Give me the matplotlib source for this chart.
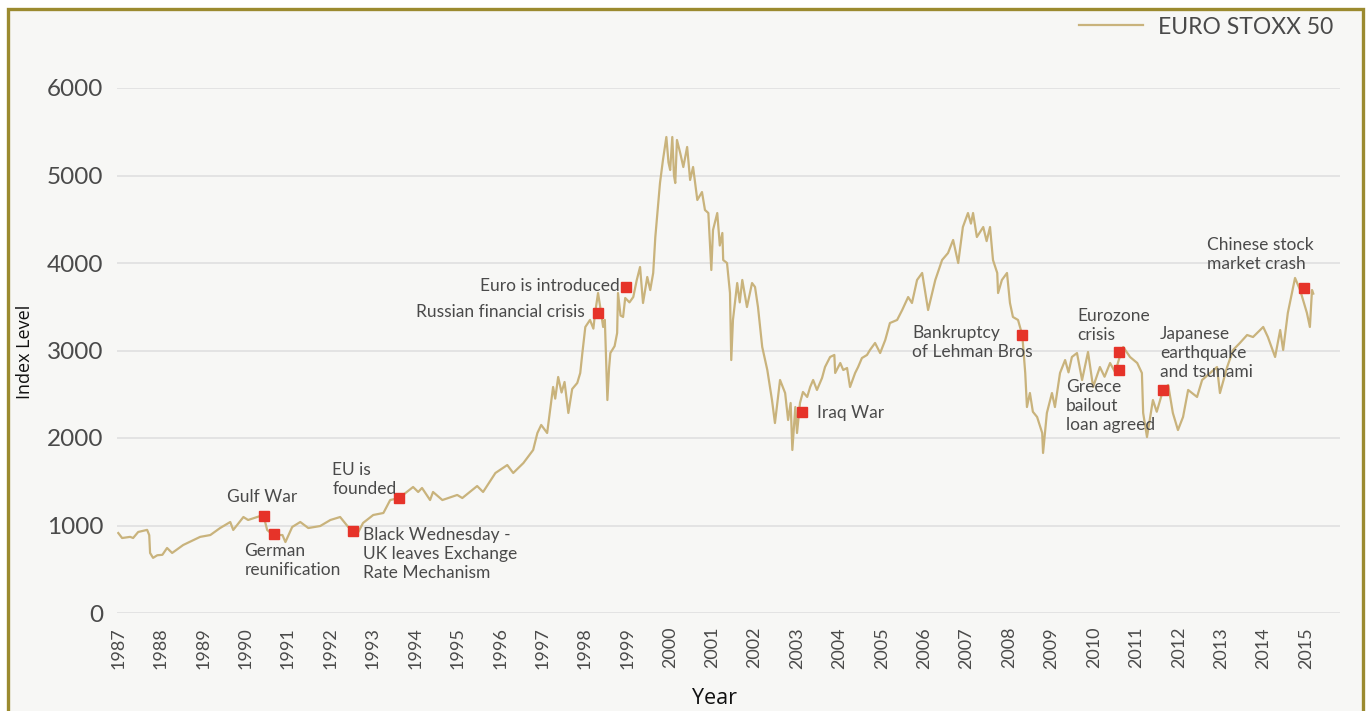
import matplotlib
matplotlib.use('Agg')
import matplotlib.pyplot as plt
from matplotlib.patches import Rectangle


# EURO STOXX 50 index level (decimal year, level)
years = [
    1987.00, 1987.09, 1987.28, 1987.35, 1987.47, 1987.68, 1987.73, 1987.75, 1987.82, 1987.92,
    1988.04, 1988.15, 1988.27, 1988.53, 1988.93, 1989.17, 1989.40, 1989.64, 1989.71, 1989.95,
    1990.06, 1990.42, 1990.51, 1990.65, 1990.87, 1990.94, 1991.10, 1991.29, 1991.48, 1991.76,
    1992.00, 1992.23, 1992.42, 1992.54, 1992.66, 1992.77, 1993.01, 1993.25, 1993.41, 1993.62,
    1993.95, 1994.07, 1994.16, 1994.35, 1994.42, 1994.64, 1994.99, 1995.11, 1995.46, 1995.60,
    1995.89, 1996.17, 1996.31, 1996.55, 1996.78, 1996.88, 1996.97, 1997.11, 1997.25, 1997.30,
    1997.37, 1997.45, 1997.52, 1997.61, 1997.70, 1997.82, 1997.89, 1997.94, 1998.01, 1998.12,
    1998.20, 1998.24, 1998.31, 1998.36, 1998.43, 1998.47, 1998.53, 1998.57, 1998.60, 1998.70,
    1998.76, 1998.78, 1998.84, 1998.90, 1998.95, 1999.05, 1999.14, 1999.22, 1999.30, 1999.37,
    1999.47, 1999.54, 1999.61, 1999.66, 1999.70, 1999.77, 1999.84, 1999.92, 1999.97, 2000.01,
    2000.06, 2000.10, 2000.13, 2000.17, 2000.25, 2000.32, 2000.41, 2000.48, 2000.55, 2000.65,
    2000.76, 2000.83, 2000.91, 2000.98, 2001.02, 2001.12, 2001.18, 2001.24, 2001.26, 2001.35,
    2001.42, 2001.45, 2001.49, 2001.59, 2001.65, 2001.71, 2001.82, 2001.94, 2002.01, 2002.08,
    2002.18, 2002.30, 2002.41, 2002.48, 2002.60, 2002.72, 2002.79, 2002.85, 2002.89, 2002.96,
    2003.00, 2003.07, 2003.14, 2003.24, 2003.31, 2003.38, 2003.47, 2003.59, 2003.66, 2003.78,
    2003.88, 2003.90, 2004.02, 2004.09, 2004.18, 2004.25, 2004.37, 2004.44, 2004.53, 2004.65,
    2004.72, 2004.84, 2004.96, 2005.08, 2005.19, 2005.36, 2005.48, 2005.62, 2005.71, 2005.83,
    2005.95, 2006.09, 2006.26, 2006.42, 2006.56, 2006.68, 2006.80, 2006.91, 2007.03, 2007.10,
    2007.15, 2007.24, 2007.39, 2007.47, 2007.55, 2007.62, 2007.72, 2007.74, 2007.83, 2007.95,
    2008.02, 2008.09, 2008.21, 2008.31, 2008.38, 2008.42, 2008.49, 2008.56, 2008.66, 2008.78,
    2008.80, 2008.89, 2009.01, 2009.08, 2009.20, 2009.32, 2009.40, 2009.48, 2009.60, 2009.72,
    2009.86, 2009.98, 2010.14, 2010.25, 2010.38, 2010.50, 2010.59, 2010.69, 2010.85, 2011.02,
    2011.13, 2011.16, 2011.25, 2011.39, 2011.48, 2011.56, 2011.63, 2011.75, 2011.86, 2011.98,
    2012.10, 2012.22, 2012.43, 2012.55, 2012.74, 2012.90, 2012.97, 2013.14, 2013.28, 2013.44,
    2013.61, 2013.75, 2013.99, 2014.10, 2014.27, 2014.39, 2014.46, 2014.57, 2014.74, 2014.86,
    2015.02, 2015.09, 2015.14, 2015.17,
]
levels = [
    914, 857, 870, 857, 926, 950, 890, 686, 630, 660,
    665, 743, 686, 777, 870, 891, 971, 1040, 949, 1097,
    1063, 1120, 949, 891, 891, 811, 983, 1040, 971, 994,
    1063, 1097, 983, 937, 926, 1029, 1120, 1143, 1291, 1314,
    1440, 1383, 1429, 1291, 1383, 1291, 1349, 1314, 1451, 1383,
    1600, 1691, 1600, 1714, 1863, 2057, 2149, 2057, 2583, 2450,
    2697, 2520, 2640, 2286, 2560, 2629, 2743, 2971, 3269, 3349,
    3250, 3429, 3657, 3500, 3269, 3350, 2434, 2800, 2971, 3050,
    3200, 3657, 3400, 3383, 3600, 3550, 3611, 3800, 3954, 3543,
    3840, 3691, 3886, 4297, 4526, 4914, 5177, 5440, 5150, 5063,
    5440, 5000, 4914, 5406, 5250, 5097, 5326, 4949, 5097, 4720,
    4811, 4606, 4571, 3920, 4377, 4571, 4200, 4343, 4034, 4000,
    3657, 2891, 3349, 3771, 3550, 3806, 3497, 3771, 3726, 3497,
    3040, 2777, 2434, 2171, 2663, 2514, 2206, 2400, 1863, 2354,
    2057, 2400, 2526, 2469, 2583, 2663, 2549, 2686, 2811, 2926,
    2949, 2743, 2857, 2777, 2800, 2583, 2743, 2811, 2914, 2949,
    3006, 3086, 2971, 3120, 3314, 3349, 3463, 3611, 3543, 3806,
    3886, 3463, 3806, 4034, 4114, 4263, 4000, 4411, 4571, 4450,
    4571, 4297, 4411, 4250, 4411, 4034, 3886, 3657, 3806, 3886,
    3543, 3383, 3349, 3177, 2743, 2354, 2514, 2300, 2240, 2057,
    1829, 2286, 2514, 2354, 2743, 2891, 2750, 2926, 2971, 2663,
    2983, 2583, 2811, 2700, 2857, 2750, 2900, 3040, 2926, 2857,
    2743, 2286, 2011, 2434, 2300, 2434, 2549, 2606, 2286, 2091,
    2240, 2549, 2469, 2663, 2743, 2811, 2514, 2811, 3006, 3086,
    3177, 3154, 3269, 3154, 2926, 3234, 3006, 3429, 3829, 3691,
    3429, 3269, 3691, 3650,
]

# events marked on the chart
event_names = [
    'Gulf War', 'German\nreunification', 'Black Wednesday -\nUK leaves Exchange\nRate Mechanism',
    'EU is\nfounded', 'Russian financial crisis', 'Euro is introduced', 'Iraq War',
    'Bankruptcy\nof Lehman Bros', 'Eurozone\ncrisis', 'Greece\nbailout\nloan agreed',
    'Japanese\nearthquake\nand tsunami', 'Chinese stock\nmarket crash',
]
event_years = [1990.44, 1990.68, 1992.54, 1993.62, 1998.31, 1998.97, 2003.12,
               2008.31, 2010.59, 2010.59, 2011.63, 2014.95]
event_levels = [1109, 903, 937, 1314, 3429, 3726, 2297,
                3177, 2983, 2777, 2549, 3714]

# label placement: (dx, dy) in points, ha, va
label_pos = [
    ((-1.4, 13.7), 'center', 'center'),
    ((-21.6, -6.5), 'left', 'top'),
    ((7.2, 2.6), 'left', 'top'),
    ((-48.0, 1.0), 'left', 'bottom'),
    ((-9.4, 0.7), 'right', 'center'),
    ((-4.3, 0.7), 'right', 'center'),
    ((10.8, -0.7), 'left', 'center'),
    ((-79.2, -5.4), 'left', 'center'),
    ((-30.2, 19.1), 'left', 'center'),
    ((-38.2, -25.9), 'left', 'center'),
    ((-2.2, 26.6), 'left', 'center'),
    ((-69.8, 24.1), 'left', 'center'),
]

line_color = '#c9b37c'
text_color = '#4a4a4a'

plt.rcParams['font.family'] = ['Lato', 'DejaVu Sans']

fig = plt.figure(figsize=(13.7, 7.11), dpi=100, facecolor='white')
W, H = 1370, 711

# panel background with olive frame
fig.patches.append(Rectangle((8 / W, -0.1), (1363 - 8) / W, (711 - 9) / H + 0.1,
                             transform=fig.transFigure, facecolor='#f7f7f5',
                             edgecolor='#9b8a2f', linewidth=2.4, zorder=-10))

ax = fig.add_axes([117 / W, (H - 613) / H, (1340 - 117) / W, (613 - 88) / H])
ax.set_facecolor('none')
ax.plot(years, levels, color=line_color, lw=1.6, label='EURO STOXX 50', zorder=3)
ax.plot(event_years, event_levels, 's', color='#e63329', ms=6.5, zorder=4, lw=0)

for name, x, y, (off, ha, va) in zip(event_names, event_years, event_levels, label_pos):
    ax.annotate(name, (x, y), xytext=off, textcoords='offset points', ha=ha, va=va,
                fontsize=12.5, color=text_color, linespacing=1.2, zorder=5)

ax.set_xlim(1986.97, 2015.8)
ax.set_ylim(0, 6000)
ax.set_yticks(range(0, 7000, 1000))
ax.set_xticks(range(1987, 2016))
ax.set_xticklabels([str(y) for y in range(1987, 2016)], rotation=90)
ax.tick_params(axis='y', length=0, pad=10, labelsize=17.5, labelcolor=text_color)
ax.tick_params(axis='x', length=0, pad=10, labelsize=13, labelcolor=text_color)
ax.grid(axis='y', color='#e0e0e0', lw=1.2)
ax.set_axisbelow(True)
for s in ax.spines.values():
    s.set_visible(False)

fig.text(25 / W, 1 - 352 / H, 'Index Level', rotation=90, ha='center', va='center',
         fontsize=13, color='#111111', family='Open Sans')
fig.text(715 / W, 1 - 699 / H, 'Year', ha='center', va='center',
         fontsize=15.5, color='#111111', family='Open Sans')

fig.legend(loc='center left', bbox_to_anchor=(1058 / W, 1 - 27 / H), frameon=False,
           fontsize=16.5, handlelength=2.8, handletextpad=0.65, labelcolor=text_color)

fig.savefig('out.png', dpi=100, facecolor='white')
